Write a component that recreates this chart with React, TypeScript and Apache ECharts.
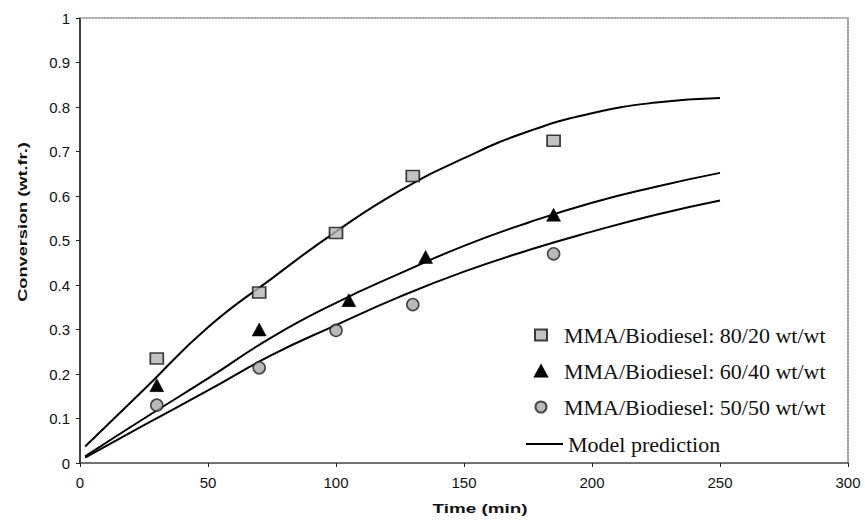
import React, { useEffect, useRef } from "react";
import * as echarts from "echarts";

// Measured conversion (wt. fraction) versus time (min) for each MMA/Biodiesel ratio
const T_80_20 = [30, 70, 100, 130, 185];
const CONV_80_20 = [0.235, 0.383, 0.517, 0.645, 0.724];

const T_60_40 = [30, 70, 105, 135, 185];
const CONV_60_40 = [0.175, 0.3, 0.366, 0.463, 0.558];

const T_50_50 = [30, 70, 100, 130, 185];
const CONV_50_50 = [0.13, 0.214, 0.298, 0.356, 0.47];

// Model prediction curves sampled along time
const T_MODEL = [2, 25, 50, 75, 100, 125, 150, 175, 200, 225, 250];
const MODEL_80_20 = [0.037, 0.165, 0.305, 0.415, 0.52, 0.612, 0.685, 0.745, 0.786, 0.81, 0.82];
const MODEL_60_40 = [0.015, 0.1, 0.19, 0.283, 0.36, 0.426, 0.488, 0.54, 0.585, 0.621, 0.652];
const MODEL_50_50 = [0.012, 0.085, 0.163, 0.243, 0.31, 0.374, 0.43, 0.478, 0.52, 0.558, 0.59];

const NAME_80_20 = "MMA/Biodiesel: 80/20 wt/wt";
const NAME_60_40 = "MMA/Biodiesel: 60/40 wt/wt";
const NAME_50_50 = "MMA/Biodiesel: 50/50 wt/wt";
const NAME_MODEL = "Model prediction";

const X_TICKS = [0, 50, 100, 150, 200, 250, 300];

const pairs = (xs: number[], ys: number[]) => xs.map((x, i) => [x, ys[i]]);

const SANS = "'Liberation Sans', Arial, Helvetica, sans-serif";
const SERIF = "'Liberation Serif', 'Times New Roman', serif";

export default function App() {
  const ref = useRef<HTMLDivElement>(null);

  useEffect(() => {
    document.body.style.margin = "0";
    if (!ref.current) return;
    const chart = echarts.init(ref.current, null, { renderer: "svg" });

    const modelLine = (data: number[]) => ({
      name: NAME_MODEL,
      type: "line",
      data: pairs(T_MODEL, data),
      smooth: true,
      symbol: "none",
      lineStyle: { color: "#000", width: 2 },
      itemStyle: { color: "#000" },
      z: 2,
    });

    const legendText = { fontFamily: SERIF, fontSize: 22, color: "#111" };

    chart.setOption({
      animation: false,
      backgroundColor: "#fff",
      grid: { left: 80, right: 17, top: 18, bottom: 57, containLabel: false },
      xAxis: [
        {
          type: "value",
          min: 0,
          max: 300,
          interval: 50,
          axisLine: { show: true, lineStyle: { color: "#444", width: 1.5 } },
          axisTick: { show: true, length: 4, lineStyle: { color: "#222" } },
          axisLabel: {
            margin: 12,
            fontFamily: SANS,
            fontSize: 15,
            color: "#111",
            customValues: X_TICKS,
          },
          splitLine: { show: false },
        },
        {
          type: "value",
          position: "top",
          min: 0,
          max: 300,
          axisLine: { show: true, onZero: false, lineStyle: { color: "#8a8a8a", width: 1.5, type: "dotted" } },
          axisTick: { show: false },
          axisLabel: { show: false },
          splitLine: { show: false },
        },
      ],
      yAxis: [
        {
          type: "value",
          min: 0,
          max: 1,
          interval: 0.1,
          axisLine: { show: true, lineStyle: { color: "#000", width: 1.5 } },
          axisTick: { show: true, length: 4, lineStyle: { color: "#222" } },
          axisLabel: { margin: 10, fontFamily: SANS, fontSize: 15, color: "#111" },
          splitLine: { show: false },
        },
        {
          type: "value",
          position: "right",
          min: 0,
          max: 1,
          axisLine: { show: true, onZero: false, lineStyle: { color: "#777", width: 1.5, type: "dotted" } },
          axisTick: { show: false },
          axisLabel: { show: false },
          splitLine: { show: false },
        },
      ],
      legend: [
        {
          orient: "vertical",
          left: 529,
          top: 319,
          itemWidth: 12,
          itemHeight: 11,
          itemGap: 14,
          textStyle: { ...legendText, padding: [0, 0, 0, 12] },
          data: [{ name: NAME_80_20 }, { name: NAME_60_40 }, { name: NAME_50_50 }],
        },
        {
          orient: "vertical",
          left: 521,
          top: 428,
          itemWidth: 37,
          itemHeight: 2,
          icon: "rect",
          textStyle: { ...legendText },
          data: [{ name: NAME_MODEL }],
        },
      ],
      graphic: [
        {
          type: "text",
          x: 480,
          y: 508,
          scaleX: 1.45,
          style: {
            text: "Time (min)",
            fontFamily: SANS,
            fontWeight: "bold",
            fontSize: 13,
            fill: "#111",
            align: "center",
            verticalAlign: "middle",
          },
        },
        {
          type: "text",
          x: 22,
          y: 222,
          rotation: Math.PI / 2,
          scaleX: 1.4,
          style: {
            text: "Conversion (wt.fr.)",
            fontFamily: SANS,
            fontWeight: "bold",
            fontSize: 13,
            fill: "#111",
            align: "center",
            verticalAlign: "middle",
          },
        },
      ],
      series: [
        {
          name: NAME_80_20,
          type: "scatter",
          data: pairs(T_80_20, CONV_80_20),
          symbol: "rect",
          symbolSize: [13, 11],
          itemStyle: { color: "#b4b4b4", borderColor: "#111", borderWidth: 1.6 },
          z: 3,
        },
        {
          name: NAME_60_40,
          type: "scatter",
          data: pairs(T_60_40, CONV_60_40),
          symbol: "triangle",
          symbolSize: [14, 13],
          itemStyle: { color: "#000", borderColor: "#000", borderWidth: 0.5, opacity: 1 },
          z: 3,
        },
        {
          name: NAME_50_50,
          type: "scatter",
          data: pairs(T_50_50, CONV_50_50),
          symbol: "circle",
          symbolSize: 12,
          itemStyle: { color: "#a8a8a8", borderColor: "#222", borderWidth: 1.6 },
          z: 3,
        },
        modelLine(MODEL_80_20),
        modelLine(MODEL_60_40),
        modelLine(MODEL_50_50),
      ],
    });

    return () => chart.dispose();
  }, []);

  return <div ref={ref} style={{ width: 865, height: 520 }} />;
}
